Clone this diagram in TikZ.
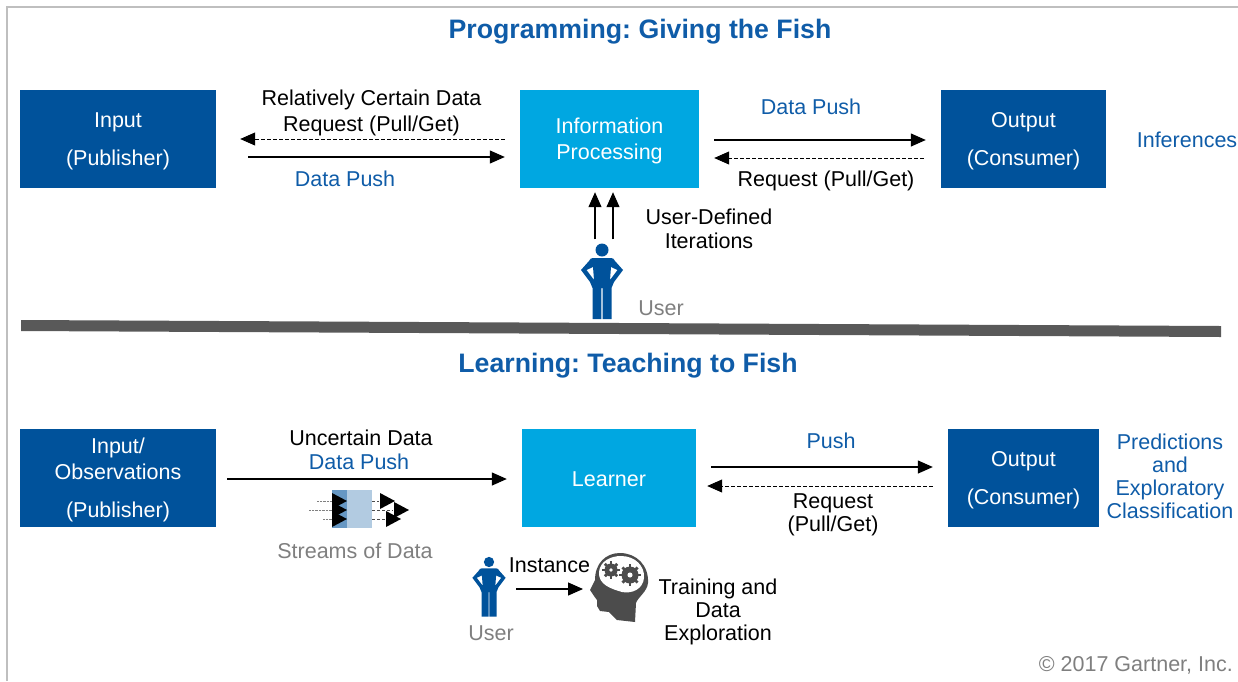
\documentclass[tikz,border=0pt]{standalone}
\usepackage{fontspec}
\setmainfont{Liberation Sans}
\usetikzlibrary{arrows.meta}
\frenchspacing
\definecolor{darkblue}{HTML}{00529B}
\definecolor{lightblue}{HTML}{00A7E1}
\definecolor{textblue}{HTML}{0F5CA8}
\definecolor{labelgray}{HTML}{7F7F7F}
\definecolor{bargray}{HTML}{595959}
\tikzset{
  user/.pic={
    \fill[darkblue, even odd rule] (-9,8) -- (9,8) .. controls (11,8) and (12,9) .. (13,11) -- (21,20)
      -- (12,32) -- (9.5,38) -- (9.5,69) -- (0.6,69) -- (0.6,38) -- (-0.6,38) -- (-0.6,69) -- (-9.5,69) -- (-9.5,38) -- (-12,32) -- (-21,20)
      -- (-13,11) .. controls (-12,9) and (-11,8) .. (-9,8) -- cycle
      (-9,17) -- (-15.5,20) -- (-8,30) -- cycle
      (9,17) -- (15.5,20) -- (8,30) -- cycle;
    \node[circle, fill=darkblue, inner sep=0pt, minimum size=13pt, transform shape] (head) at (0,0) {};
  }
}
\begin{document}
\begin{tikzpicture}[x=1pt, y=-1pt]
    % Styles
    \tikzstyle{dark} = [rectangle, fill=darkblue, text=white, minimum height=98pt, align=center, inner sep=0pt, text depth=0pt, font=\fontsize{21.5}{26}\selectfont]
    \tikzstyle{light} = [dark, fill=lightblue]
    \tikzstyle{txt} = [align=center, inner sep=0pt, font=\fontsize{21.5}{24}\selectfont]
    \tikzstyle{tight} = [txt, font=\fontsize{21.5}{23}\selectfont]
    \tikzstyle{bluetxt} = [txt, text=textblue]
    \tikzstyle{graytxt} = [txt, text=labelgray]
    \tikzstyle{title} = [inner sep=0pt, text=textblue, font=\fontsize{26.7}{30}\selectfont\bfseries]
    \tikzstyle{arrow} = [-{Triangle[length=15pt, width=13pt]}, line width=1.2pt]
    \tikzstyle{backarrow} = [-{Triangle[length=15pt, width=13pt]}, line width=0.9pt, dash pattern=on 3.5pt off 2.5pt]

    \useasboundingbox (0,0) rectangle (1238,681);
    \draw[line width=1.5pt, black!25] (7,681) -- (7,7) -- (1238,7);

    % Programming
    \node[title] (T1) at (640,32) {Programming: Giving the Fish};
    \node[dark, minimum width=196pt] (Input1) at (118,139) {Input\\[12pt](Publisher)};
    \node[light, minimum width=179pt] (Info) at (609.5,139) {Information\\Processing};
    \node[dark, minimum width=165pt] (Output1) at (1023.5,139) {Output\\[12pt](Consumer)};
    \node[txt] (L1) at (371.5,112.5) {Relatively Certain Data\\[2pt]Request (Pull/Get)};
    \node[bluetxt] (L2) at (345,179) {Data Push};
    \node[bluetxt] (L3) at (811,107) {Data Push};
    \node[txt] (L4) at (826,181) {Request (Pull/Get)};
    \node[bluetxt] (L5) at (1187,140) {Inferences};
    \node[txt] (L6) at (709,229) {User-Defined\\Iterations};
    \node[graytxt] (L7) at (661,308) {User};
    \pic (UserA) at (602,250) {user};

    \draw[backarrow] ([xshift=-15pt]Info.west) -- ([xshift=24pt]Input1.east);
    \draw[arrow] ([xshift=32pt, yshift=-18pt]Input1.east) -- ([xshift=-15pt, yshift=-18pt]Info.west);
    \draw[arrow] ([xshift=15pt, yshift=-1pt]Info.east) -- ([xshift=-15pt, yshift=-1pt]Output1.west);
    \draw[backarrow] ([xshift=-17pt, yshift=-19pt]Output1.west) -- ([xshift=15pt, yshift=-19pt]Info.east);
    \draw[arrow] ([xshift=-7pt, yshift=4pt]UserAhead.north) -- ([xshift=-14.5pt, yshift=-4pt]Info.south);
    \draw[arrow] ([xshift=11pt, yshift=4pt]UserAhead.north) -- ([xshift=3.5pt, yshift=-4pt]Info.south);

    % Divider
    \fill[bargray] (21,320) -- (1221,326) -- (1221,337) -- (21,331) -- cycle;

    % Learning
    \node[title] (T2) at (628,366) {Learning: Teaching to Fish};
    \node[dark, minimum width=196pt] (Input2) at (118,478) {Input/\\Observations\\[12pt](Publisher)};
    \node[light, minimum width=174pt, text height=17pt] (Learner) at (609,478) {Learner};
    \node[dark, minimum width=151pt] (Output2) at (1023.5,478) {Output\\[12pt](Consumer)};
    \node[txt] (L8) at (361,438) {Uncertain Data};
    \node[bluetxt] (L9) at (359,462) {Data Push};
    \node[graytxt] (L10) at (355,551) {Streams of Data};
    \node[bluetxt] (L11) at (831,441) {Push};
    \node[tight] (L12) at (833,515) {Request\\(Pull/Get)};
    \node[tight, text=textblue] (L13) at (1170,476.5) {Predictions\\and\\Exploratory\\Classification};
    \node[txt] (L14) at (549.5,565) {Instance};
    \node[graytxt] (L15) at (491,633) {User};
    \node[tight] (L16) at (718,611.5) {Training and\\Data\\Exploration};
    \node[graytxt, anchor=east] (L17) at (1233,665) {© 2017 Gartner, Inc.};
    \pic[scale=0.79] (UserB) at (489,562) {user};

    \draw[arrow] ([xshift=11pt, yshift=-1pt]Input2.east) -- ([xshift=-15pt, yshift=-1pt]Learner.west);
    \draw[arrow] ([xshift=15pt, yshift=11pt]Learner.east) -- ([xshift=-15pt, yshift=11pt]Output2.west);
    \draw[backarrow] ([xshift=-15pt, yshift=-8pt]Output2.west) -- ([xshift=11pt, yshift=-8pt]Learner.east);

    % Streams of data
    \fill[darkblue!30] (332,490) rectangle (372,528);
    \fill[darkblue!60] (332,490) rectangle (347,528);
    \draw[densely dotted, gray] (317,501) -- (332,501);
    \draw[densely dotted, gray] (309,510) -- (332,510);
    \draw[densely dotted, gray] (323,519) -- (332,519);
    \draw[densely dashed, black!70] (372,501) -- (379,501);
    \draw[densely dashed, black!70] (372,510) -- (393,510);
    \draw[densely dashed, black!70] (372,519) -- (385,519);
    \foreach \tipx/\tipy in {347/501, 347/510, 347/519, 395/501, 409/510, 401/519} {
        \fill (\tipx,\tipy) -- ++(-15,-8) -- ++(0,16) -- cycle;
    }

    % Head with gears
    \fill[black!70] (590,590) -- (595,580) .. controls (595,563) and (606,553) .. (620,553)
        .. controls (636,553) and (649,565) .. (648,583) .. controls (647,592) and (638,597) .. (636,603)
        -- (635,622) -- (617,620) -- (609,612) -- (600,611) -- (597,606) -- (597,600) -- (594,596) -- cycle;
    \fill[white] (599,572) .. controls (600,561) and (611,556) .. (621,556)
        .. controls (635,556) and (645,566) .. (644,578) .. controls (643,589) and (632,594) .. (622,592)
        .. controls (612,589) and (598,585) .. (599,572) -- cycle;
    \foreach \gearx/\geary/\gearr in {611/570/6.5, 630/575/8.5} {
        \fill[black!70] (\gearx,\geary) circle (\gearr);
        \fill[white] (\gearx,\geary) circle (\gearr*0.3);
        \foreach \ang in {0,45,...,315} {
            \draw[black!70, line width=2.8pt] (\gearx,\geary) ++(\ang:\gearr-1) -- ++(\ang:3.2);
        }
    }
    \coordinate (InstStart) at (516,589);
    \coordinate (HeadTip) at (583,589);
    \draw[arrow] (InstStart) -- (HeadTip);
\end{tikzpicture}
\end{document}
